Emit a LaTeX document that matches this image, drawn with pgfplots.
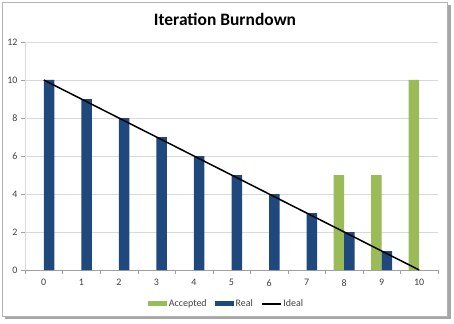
\documentclass[border=0pt]{standalone}
\usepackage{pgfplots}
\pgfplotsset{compat=1.18}
\usepackage{fontspec}
\setmainfont{Carlito}
\definecolor{accgreen}{HTML}{9BBB59}
\definecolor{realblue}{HTML}{1F497D}
\definecolor{gridgray}{HTML}{D9D9D9}
\definecolor{axgray}{HTML}{A0A0A0}
\definecolor{txtgray}{HTML}{404040}
\begin{document}
\begin{tikzpicture}[x=1bp,y=1bp]
\useasboundingbox (0,0) rectangle (454,323);
% frame with shadow
\fill[gray!70] (5,4) rectangle (451,318);
\fill[white,draw=gray!60,line width=0.8bp] (2,7) rectangle (447,321);
\node[font=\fontsize{17.5}{20}\selectfont\bfseries] at (225,304) {Iteration Burndown};
\begin{axis}[
  at={(25bp,53bp)}, anchor=south west,
  scale only axis, width=413bp, height=228bp,
  xmin=-0.5, xmax=10.5, ymin=0, ymax=12,
  xtick={0,...,10}, ytick={0,2,...,12},
  xticklabels={0,1,2,3,4,5,6,7,8,9,10},
  yticklabels={0,2,4,6,8,10,12},
  minor xtick={-0.5,0.5,...,10.5},
  major x tick style={draw=none},
  minor x tick style={draw=axgray},
  major y tick style={draw=axgray},
  tick align=outside, tick pos=left,
  major tick length=4bp, minor tick length=4bp,
  ymajorgrids, grid style={gridgray, line width=0.8bp},
  axis x line*=bottom, axis y line*=left,
  x axis line style={draw=axgray,-},
  y axis line style={draw=gridgray,-},
  ticklabel style={font=\fontsize{10}{12}\selectfont, text=txtgray},
  xticklabel style={yshift=-2bp},
  legend columns=3,
  legend style={at={(0.488,-0.149)}, anchor=center, draw=none, fill=none,
    font=\fontsize{10}{12}\selectfont, text=txtgray,
    /tikz/every even column/.append style={column sep=6bp}},
]
\addplot[ybar, bar width=10.5bp, bar shift=-5.25bp, fill=accgreen, draw=none,
  legend image code/.code={\fill[accgreen] (0bp,-2.5bp) rectangle (19bp,2.5bp);}]
  coordinates {(8,5) (9,5) (10,10)};
\addlegendentry{Accepted}
\addplot[ybar, bar width=10.5bp, bar shift=5.25bp, fill=realblue, draw=none,
  legend image code/.code={\fill[realblue] (0bp,-2.5bp) rectangle (19bp,2.5bp);}]
  coordinates {(0,10) (1,9) (2,8) (3,7) (4,6) (5,5) (6,4) (7,3) (8,2) (9,1)};
\addlegendentry{Real}
\addplot[black, line width=1.5bp, sharp plot,
  legend image code/.code={\draw[black, line width=1.5bp] (0bp,0bp) -- (19bp,0bp);}]
  coordinates {(0,10) (10,0)};
\addlegendentry{Ideal}
\end{axis}
\end{tikzpicture}
\end{document}
